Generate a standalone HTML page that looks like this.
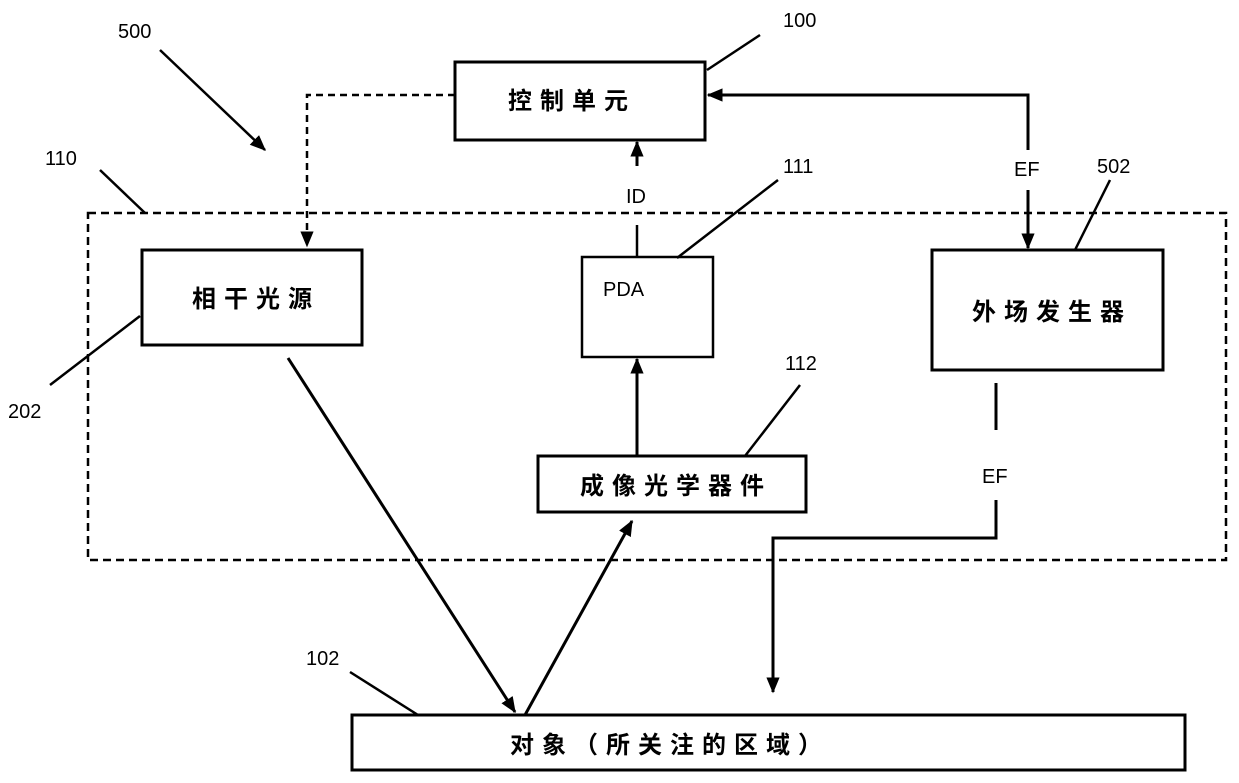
<!DOCTYPE html>
<html><head><meta charset="utf-8"><style>
body{margin:0;background:#fff}
svg{display:block}
.cn{font-family:"Liberation Sans","Noto Sans CJK SC",sans-serif;font-weight:bold;font-size:24px;letter-spacing:8px}
.l{font-family:"Liberation Sans",sans-serif;font-size:20px}
</style></head><body>
<svg width="1239" height="783" viewBox="0 0 1239 783" xmlns="http://www.w3.org/2000/svg">
<defs>
<marker id="b" viewBox="0 0 12 12" markerWidth="16" markerHeight="16" refX="11" refY="6" orient="auto" markerUnits="userSpaceOnUse"><path d="M0,1 L12,6 L0,11 z" fill="#000"/></marker>
</defs>
<g fill="none" stroke="#000" stroke-width="3">
<rect x="88" y="213" width="1138" height="347" stroke-dasharray="8,5" stroke-width="2.5"/>
<rect x="455" y="62" width="250" height="78"/>
<rect x="142" y="250" width="220" height="95"/>
<rect x="582" y="257" width="131" height="100" stroke-width="2.5"/>
<rect x="932" y="250" width="231" height="120"/>
<rect x="538" y="456" width="268" height="56"/>
<rect x="352" y="715" width="833" height="55"/>
<path d="M455,95 H307 V246" stroke-dasharray="7,5" stroke-width="2.5" marker-end="url(#b)"/>
<path d="M1028,150 V95 H708" marker-end="url(#b)"/>
<path d="M1028,190 V248" marker-end="url(#b)"/>
<path d="M637,225 V257" stroke-width="2.5"/>
<path d="M637,166 V142" marker-end="url(#b)"/>
<path d="M996,383 V430"/>
<path d="M996,500 V538 H773 V692" marker-end="url(#b)"/>
<path d="M637,456 V359" marker-end="url(#b)"/>
<path d="M288,358 L515,712" marker-end="url(#b)"/>
<path d="M525,715 L632,521" marker-end="url(#b)"/>
<g stroke-width="2.5">
<path d="M160,50 L265,150" marker-end="url(#b)"/>
<path d="M760,35 L707,70"/>
<path d="M100,170 L145,213"/>
<path d="M778,180 L677,258"/>
<path d="M1110,180 L1075,250"/>
<path d="M50,385 L140,316"/>
<path d="M800,385 L745,456"/>
<path d="M350,672 L418,715"/>
</g>
</g>
<g class="cn" text-anchor="middle">
<text x="572" y="109">控制单元</text>
<text x="256" y="307">相干光源</text>
<text x="1052" y="320">外场发生器</text>
<text x="676" y="494">成像光学器件</text>
<text x="670" y="753">对象（所关注的区域）</text>
</g>
<g class="l">
<text x="603" y="296">PDA</text>
<text x="626" y="203">ID</text>
<text x="1014" y="176">EF</text>
<text x="982" y="483">EF</text>
<text x="118" y="38">500</text>
<text x="783" y="27">100</text>
<text x="45" y="165">110</text>
<text x="783" y="173">111</text>
<text x="1097" y="173">502</text>
<text x="8" y="418">202</text>
<text x="785" y="370">112</text>
<text x="306" y="665">102</text>
</g>
</svg>
</body></html>
